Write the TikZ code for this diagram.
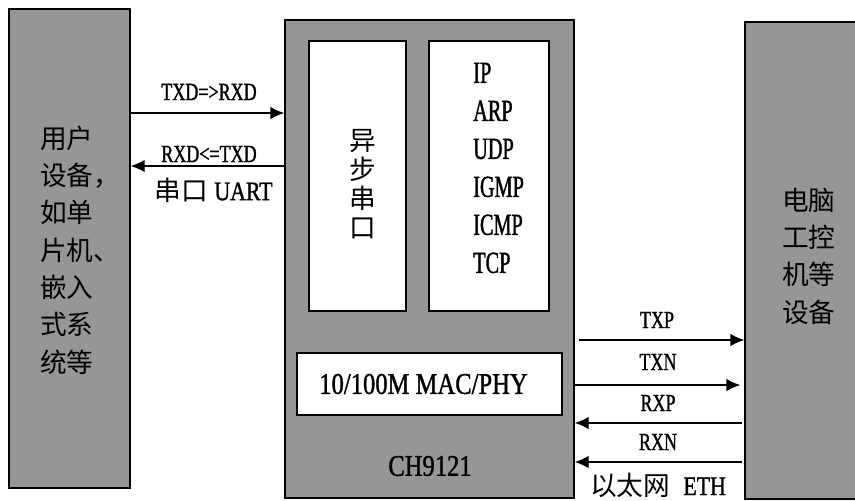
\documentclass[tikz,border=0pt]{standalone}
\usepackage{fontspec}
\setmainfont{Liberation Serif}[FakeStretch=0.78]
\newfontfamily\cjk{Noto Sans CJK SC}
\newfontfamily\fa{Liberation Serif}[FakeStretch=0.73, FakeBold=1.2]
\newfontfamily\fb{Liberation Serif}[FakeStretch=0.66, FakeBold=1.2]
\newfontfamily\fc{Liberation Serif}[FakeStretch=0.82, FakeBold=1.2]
\usetikzlibrary{arrows.meta}
\definecolor{boxgray}{RGB}{150,150,150}
\tikzset{
  blk/.style={draw=black, line width=1.1pt, fill=boxgray, inner sep=0pt},
  wbox/.style={draw=black, line width=1.1pt, fill=white, inner sep=0pt},
  arr/.style={line width=1.1pt, -{Latex[length=10.5pt,width=9.5pt]}},
  lbl/.style={inner sep=0pt, font=\fa\fontsize{18.5pt}{20pt}\selectfont},
  cjktxt/.style={inner sep=0pt, align=left, font=\cjk\fontsize{20pt}{28pt}\selectfont},
}
\begin{document}
\begin{tikzpicture}[x=0.75pt, y=-0.75pt]
\useasboundingbox (0,0) rectangle (855,500);
\clip (0,0) rectangle (855,500);
% boxes
\node[blk, minimum width=90.75pt, minimum height=359.25pt] (L) at (69.5,248.5) {};
\node[blk, minimum width=216.75pt, minimum height=358.5pt] (M) at (429.5,259) {};
\node[blk, minimum width=84.75pt, minimum height=357.75pt] (R) at (801.5,260.5) {};
\node[wbox, minimum width=72.75pt, minimum height=202.5pt] (A) at (357.5,176) {};
\node[wbox, minimum width=90pt, minimum height=202.5pt] (P) at (489,176) {};
\node[wbox, minimum width=198.75pt, minimum height=46.5pt] (MAC) at (429.5,384) {};
% texts in boxes
\node[cjktxt, anchor=west] (Ltxt) at (40,250) {用户\\设备，\\如单\\片机、\\嵌入\\式系\\统等};
\node[cjktxt, anchor=west] (Rtxt) at (782,256) {电脑\\工控\\机等\\设备};
\node[inner sep=0pt, align=center, font=\cjk\fontsize{20pt}{21.75pt}\selectfont] (Atxt) at (363,184) {异\\步\\串\\口};
\node[inner sep=0pt, align=left, anchor=west, font=\fb\fontsize{23pt}{28.5pt}\selectfont] (Ptxt) at (473,168) {IP\\ARP\\UDP\\IGMP\\ICMP\\TCP};
\node[inner sep=0pt, font=\fc\fontsize{22.5pt}{26pt}\selectfont] (MACtxt) at (423.5,384) {10/100M MAC/PHY};
\node[inner sep=0pt, font=\fc\fontsize{22.5pt}{26pt}\selectfont] (chip) at (430,466) {CH9121};
% row levels
\coordinate (r1) at (0,113);
\coordinate (r2) at (0,166);
\coordinate (e1) at (0,340);
\coordinate (e2) at (0,385);
\coordinate (e3) at (0,423);
\coordinate (e4) at (0,462);
% UART arrows
\draw[arr] (L.east |- r1) -- (M.west |- r1);
\draw[arr] (M.west |- r2) -- (L.east |- r2);
\node[lbl] (t1) at (209,92) {TXD=>RXD};
\node[lbl] (t2) at (209,154) {RXD<=TXD};
\node[inner sep=0pt, font=\fc\fontsize{20pt}{22pt}\selectfont] (uart) at (213.5,190) {{\cjk 串口}\hspace{5pt}UART};
% ETH arrows
\draw[arr, shorten <=3pt] (M.east |- e1) -- (R.west |- e1);
\draw[arr, shorten >=3pt] (M.east |- e2) -- (R.west |- e2);
\draw[arr, shorten <=1.5pt] (R.west |- e3) -- (M.east |- e3);
\draw[arr, shorten <=1.5pt] (R.west |- e4) -- (M.east |- e4);
\node[lbl] (l1) at (657,320) {TXP};
\node[lbl] (l2) at (658,362) {TXN};
\node[lbl] (l3) at (658,403) {RXP};
\node[lbl] (l4) at (658,442) {RXN};
\node[inner sep=0pt, font=\fc\fontsize{20pt}{22pt}\selectfont] (eth) at (658,485) {{\cjk 以太网}\hspace{10pt}ETH};
\end{tikzpicture}
\end{document}
